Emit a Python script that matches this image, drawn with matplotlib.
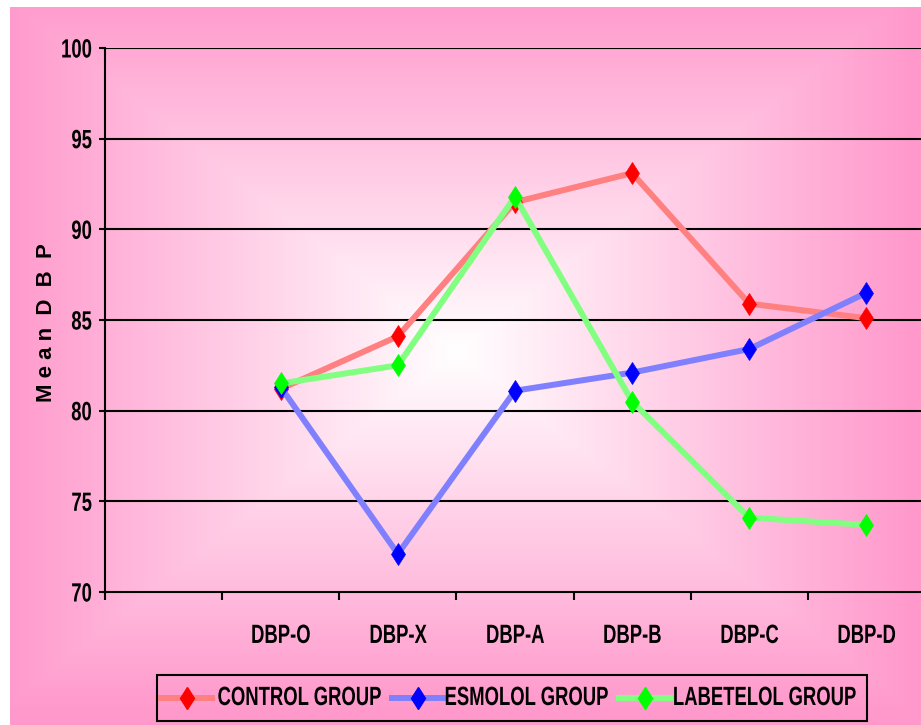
import numpy as np
import matplotlib
matplotlib.use("Agg")
import matplotlib.pyplot as plt
from matplotlib.lines import Line2D
from matplotlib.patches import Rectangle
from matplotlib.patheffects import AbstractPathEffect
from matplotlib.transforms import Affine2D

# ---- data ----
categories = ["", "DBP-O", "DBP-X", "DBP-A", "DBP-B", "DBP-C", "DBP-D"]
control = [np.nan, 81.2, 84.1, 91.5, 93.1, 85.9, 85.1]
esmolol = [np.nan, 81.3, 72.1, 81.1, 82.1, 83.4, 86.5]
labetelol = [np.nan, 81.5, 82.5, 91.8, 80.5, 74.1, 73.7]
series_names = ["CONTROL GROUP", "ESMOLOL GROUP", "LABETELOL GROUP"]
y_ticks = [70, 75, 80, 85, 90, 95, 100]

W, H = 921, 725
plt.rcParams["font.family"] = ["Liberation Sans", "DejaVu Sans"]
plt.rcParams["font.weight"] = "bold"


class Narrow(AbstractPathEffect):
    """Squeeze glyphs horizontally to get a condensed typeface look."""

    def __init__(self, sx=0.7, anchor="center"):
        super().__init__()
        self.sx = sx
        self.anchor = anchor

    def draw_path(self, renderer, gc, tpath, affine, rgbFace=None):
        ext = tpath.get_extents()
        if self.anchor == "right":
            cx = ext.x1
        elif self.anchor == "left":
            cx = ext.x0
        else:
            cx = 0.5 * (ext.x0 + ext.x1)
        pre = Affine2D().translate(-cx, 0).scale(self.sx, 1.0).translate(cx, 0)
        renderer.draw_path(gc, tpath, pre + affine, rgbFace)


SX = 0.70
FS = 19

fig = plt.figure(figsize=(W / 100, H / 100), dpi=100)
fig.patch.set_facecolor("white")


def fx(px):
    return px / W


def fy(py):
    return 1 - py / H


# ---- chart-area background: pink rectangular gradient fading to white at the centre ----
x0, x1, y0, y1 = 10, W, 7, H
bg = fig.add_axes([fx(x0), 0, (x1 - x0) / W, (y1 - y0) / H], zorder=0)
nx, ny = x1 - x0, y1 - y0
XX, YY = np.meshgrid(np.linspace(-1, 1, nx), np.linspace(-1, 1, ny))
t = np.clip(np.maximum(np.abs(XX + 0.02), np.abs(YY + 0.04)), 0, 1)
pink = np.array([255, 153, 204]) / 255.0
white = np.array([1.0, 1.0, 1.0])
img = white[None, None, :] + (pink - white)[None, None, :] * t[..., None]
bg.imshow(img, aspect="auto", extent=[0, 1, 0, 1], origin="upper")
bg.set_axis_off()

# ---- main plot axes ----
L, R, T, B = 105, 925, 48, 592
ax = fig.add_axes([fx(L), fy(B), (R - L) / W, (B - T) / H], zorder=1)
ax.patch.set_alpha(0)

x = np.arange(len(categories))
styles = [
    (control, "#FF8080", "#FF0000"),
    (esmolol, "#8080FF", "#0000FF"),
    (labetelol, "#80FF80", "#00FF00"),
]
for i, (vals, lc, mc) in enumerate(styles):
    ax.plot(x, vals, color=lc, lw=4.3, zorder=3 + i)
    ax.plot(x, vals, ls="none", marker="d", markersize=11.5,
            markerfacecolor=mc, markeredgecolor=mc, markeredgewidth=0.5, zorder=3 + i)

ax.set_xlim(-0.5, len(categories) - 0.5)
ax.set_ylim(70, 100)
ax.set_yticks(y_ticks)
ax.set_yticklabels([str(v) for v in y_ticks])
for yv in y_ticks[1:]:
    ax.axhline(yv, color="black", lw=1.5, zorder=2)

# category boundary ticks, labels centred in each slot
ax.set_xticks(np.arange(len(categories) + 1) - 0.5)
ax.set_xticklabels([])
ax.set_xticks(x, minor=True)
ax.set_xticklabels(categories, minor=True)
ax.tick_params(axis="x", which="major", direction="out", length=6, width=1.5, color="black")
ax.tick_params(axis="x", which="minor", length=0, pad=23, labelsize=FS)
ax.tick_params(axis="y", direction="out", length=4.3, width=1.5, pad=5, labelsize=FS)

for lab in ax.get_yticklabels():
    lab.set_path_effects([Narrow(SX, "right")])
for lab in ax.get_xticklabels(minor=True):
    lab.set_path_effects([Narrow(SX, "center")])

for s in ["top", "right"]:
    ax.spines[s].set_visible(False)
for s in ["left", "bottom"]:
    ax.spines[s].set_linewidth(1.5)
    ax.spines[s].set_color("black")

fig.text(fx(46), fy(323), "M e a n  D  B  P", rotation=90, ha="center", va="center",
         fontsize=16, fontweight="bold")

# ---- legend ----
fig.add_artist(Rectangle((fx(157), fy(721)), fx(867) - fx(157), fy(675) - fy(721),
                         transform=fig.transFigure, facecolor="none",
                         edgecolor="black", lw=1.5, zorder=5))
handle_x = [161, 392, 619]
text_cx = [299.5, 526.5, 764.5]
ly = fy(698)
for (vals, lc, mc), hx, tx, name in zip(styles, handle_x, text_cx, series_names):
    fig.add_artist(Line2D([fx(hx), fx(hx + 51)], [ly, ly], transform=fig.transFigure,
                          color=lc, lw=4.3, zorder=6))
    fig.add_artist(Line2D([fx(hx + 26)], [ly], transform=fig.transFigure, ls="none",
                          marker="d", markersize=11.5, markerfacecolor=mc,
                          markeredgecolor=mc, zorder=7))
    fig.text(fx(tx), ly, name, ha="center", va="center", fontsize=FS, fontweight="bold",
             path_effects=[Narrow(SX, "center")], zorder=7)

fig.savefig("out.png", dpi=100)
